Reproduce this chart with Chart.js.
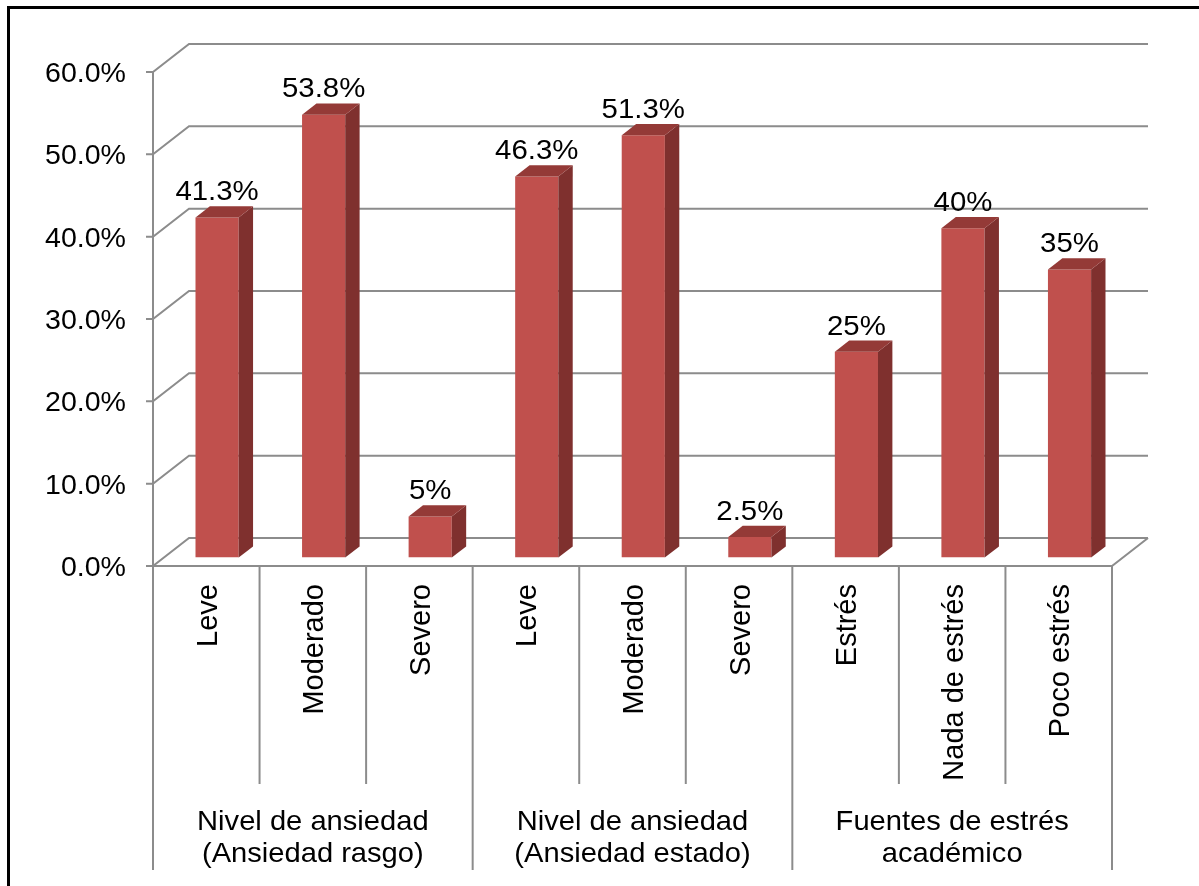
<!DOCTYPE html>
<html>
<head>
<meta charset="utf-8">
<title>Ansiedad y estrés académico</title>
<script src="https://cdn.jsdelivr.net/npm/chart.js"></script>
<style>
    body { margin: 0; background: #fff; }
    canvas { display: block; }
</style>
</head>
<body>
<canvas id="grafico" width="1199" height="886"></canvas>
<script>
    // datos
    const categorias = ['Leve', 'Moderado', 'Severo', 'Leve', 'Moderado', 'Severo', 'Estrés', 'Nada de estrés', 'Poco estrés'];
    const porcentajes = [41.3, 53.8, 5, 46.3, 51.3, 2.5, 25, 40, 35];
    const grupos = [
        ['Nivel de ansiedad', '(Ansiedad rasgo)'],
        ['Nivel de ansiedad', '(Ansiedad estado)'],
        ['Fuentes de estrés', 'académico']
    ];
    const tamGrupos = [3, 3, 3];
    const ticksY = [0, 10, 20, 30, 40, 50, 60];

    // profundidad del efecto 3D
    const PROF_X = 36, PROF_Y = -28;
    const FRENTE = 0.3, FONDO = 0.7;
    const GRIS = '#8c8c8c';
    const FUENTE = '"Liberation Sans", Arial, sans-serif';

    function linea(ctx, pts) {
        ctx.beginPath();
        ctx.moveTo(pts[0][0], pts[0][1]);
        for (let i = 1; i < pts.length; i++) ctx.lineTo(pts[i][0], pts[i][1]);
        ctx.stroke();
    }

    function texto(ctx, t, x, y, align, size, sx) {
        ctx.save();
        ctx.translate(x, y);
        ctx.scale(sx, 1);
        ctx.font = size + 'px ' + FUENTE;
        ctx.textAlign = align;
        ctx.textBaseline = 'alphabetic';
        ctx.fillStyle = '#000';
        ctx.fillText(t, 0, 0);
        ctx.restore();
    }

    const barras3d = {
        id: 'barras3d',
        beforeDatasetsDraw(chart) {
            const ctx = chart.ctx;
            const a = chart.chartArea;
            const xs = chart.scales.x, ys = chart.scales.y;

            // marco
            ctx.save();
            ctx.lineWidth = 3;
            ctx.strokeStyle = '#000';
            ctx.strokeRect(8.5, 7.5, 1400, 1200);

            ctx.strokeStyle = GRIS;
            ctx.lineWidth = 2;
            // pared lateral y fondo
            ticksY.forEach(v => {
                const y = ys.getPixelForValue(v);
                linea(ctx, [[a.left - 7, y], [a.left, y], [a.left + PROF_X, y + PROF_Y], [a.right + PROF_X, y + PROF_Y]]);
                texto(ctx, v.toFixed(1) + '%', a.left - 27, y + 10, 'right', 28, 1.02);
            });
            // eje vertical y piso
            linea(ctx, [[a.left, a.top], [a.left, a.bottom], [a.right, a.bottom], [a.right + PROF_X, a.bottom + PROF_Y]]);

            // divisiones del eje de categorías
            const n = categorias.length;
            let inicio = 0;
            const limitesGrupo = [0];
            tamGrupos.forEach(t => { inicio += t; limitesGrupo.push(inicio); });
            for (let k = 0; k <= n; k++) {
                const x = xs.getPixelForValue(k - 0.5);
                const largo = limitesGrupo.includes(k) ? 870 : 784;
                linea(ctx, [[x, a.bottom], [x, largo]]);
            }

            // etiquetas rotadas
            categorias.forEach((c, i) => {
                const x = xs.getPixelForValue(i);
                ctx.save();
                ctx.translate(x + 10.5, a.bottom + 18);
                ctx.rotate(-Math.PI / 2);
                ctx.font = '29px ' + FUENTE;
                ctx.textAlign = 'right';
                ctx.fillStyle = '#000';
                ctx.fillText(c, 0, 0);
                ctx.restore();
            });

            // etiquetas de grupo
            grupos.forEach((g, j) => {
                const x0 = xs.getPixelForValue(limitesGrupo[j] - 0.5);
                const x1 = xs.getPixelForValue(limitesGrupo[j + 1] - 0.5);
                const cx = (x0 + x1) / 2;
                texto(ctx, g[0], cx, 830, 'center', 28, 1.04);
                texto(ctx, g[1], cx, 862, 'center', 28, 1.04);
            });
            ctx.restore();

            // la cara frontal de las barras va a media profundidad
            ctx.save();
            ctx.translate(PROF_X * FRENTE, PROF_Y * FRENTE);
        },
        afterDatasetsDraw(chart) {
            const ctx = chart.ctx;
            ctx.restore();
            const dx = PROF_X * (FONDO - FRENTE), dy = PROF_Y * (FONDO - FRENTE);
            const ox = PROF_X * FRENTE, oy = PROF_Y * FRENTE;
            const meta = chart.getDatasetMeta(0);
            meta.data.forEach((bar, i) => {
                const p = bar.getProps(['x', 'y', 'base', 'width']);
                const l = p.x - p.width / 2 + ox, r = p.x + p.width / 2 + ox;
                const t = p.y + oy, b = p.base + oy;
                // lado
                ctx.fillStyle = '#7f302e';
                ctx.beginPath();
                ctx.moveTo(r, t); ctx.lineTo(r + dx, t + dy); ctx.lineTo(r + dx, b + dy); ctx.lineTo(r, b);
                ctx.closePath(); ctx.fill();
                // tapa
                ctx.fillStyle = '#943a37';
                ctx.beginPath();
                ctx.moveTo(l, t); ctx.lineTo(l + dx, t + dy); ctx.lineTo(r + dx, t + dy); ctx.lineTo(r, t);
                ctx.closePath(); ctx.fill();
                // valor
                texto(ctx, porcentajes[i] + '%', p.x + ox, t + dy - 6, 'center', 28, 1.05);
            });
        }
    };

    new Chart(document.getElementById('grafico'), {
        type: 'bar',
        data: {
            labels: categorias,
            datasets: [{
                data: porcentajes,
                backgroundColor: '#c0504d',
                borderWidth: 0,
                categoryPercentage: 1,
                barPercentage: 0.405
            }]
        },
        options: {
            responsive: false,
            animation: false,
            devicePixelRatio: 1,
            layout: { padding: { left: 153, right: 87, top: 72, bottom: 320 } },
            plugins: { legend: { display: false }, tooltip: { enabled: false } },
            scales: {
                x: { display: false },
                y: { display: false, min: 0, max: 60 }
            }
        },
        plugins: [barras3d]
    });
</script>
</body>
</html>
